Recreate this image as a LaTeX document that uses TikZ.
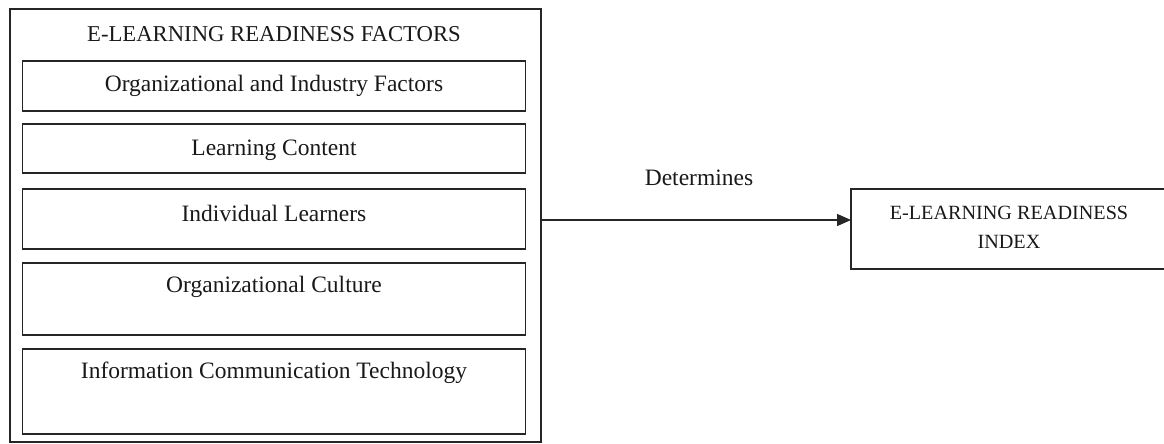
\documentclass[tikz,border=0pt]{standalone}
\usepackage{fontspec}
\setmainfont{Liberation Serif}
\usetikzlibrary{arrows.meta}
\begin{document}
\begin{tikzpicture}[x=1pt,y=-1pt,
  box/.style={draw=black!85,line width=1.4pt,inner sep=0pt,outer sep=0pt},
  lab/.style={font=\fontsize{23.5}{28}\selectfont,inner sep=0pt,anchor=center,text=black!90},
  caps/.style={font=\fontsize{22.7}{28}\selectfont,inner sep=0pt,anchor=center,text=black!90},
  idxtext/.style={font=\fontsize{20.2}{29}\selectfont,inner sep=0pt,anchor=center,align=center,text=black!90},
  arr/.style={draw=black!85,line width=1.4pt,-{Triangle[length=14pt,width=12pt]}},
]
\useasboundingbox (0,0) rectangle (1164,444);
\clip (0,0) rectangle (1164,444);
% outer container
\node[box,minimum width=531pt,minimum height=433pt] (outer) at (275.5,225.5) {};
\node[caps] (title) at (274,34.5) {E-LEARNING READINESS FACTORS};
% factor boxes
\node[box,minimum width=503pt,minimum height=50pt] (b1) at (274.2,86) {};
\node[box,minimum width=503pt,minimum height=49pt] (b2) at (274.2,148.5) {};
\node[box,minimum width=503pt,minimum height=60pt] (b3) at (274.2,219) {};
\node[box,minimum width=503pt,minimum height=72pt] (b4) at (274.2,299) {};
\node[box,minimum width=503pt,minimum height=85pt] (b5) at (274.2,391.5) {};
\node[lab] (t1) at (274,86) {Organizational and Industry Factors};
\node[lab] (t2) at (274,150) {Learning Content};
\node[lab] (t3) at (274,213) {Individual Learners};
\node[lab] (t4) at (274,287) {Organizational Culture};
\node[lab] (t5) at (274,373) {Information Communication Technology};
% index box
\node[box,minimum width=316pt,minimum height=80pt] (idx) at (1009,229) {};
\node[idxtext] (it) at (1009,227.5) {E-LEARNING READINESS\\INDEX};
% connector
\draw[arr] ([yshift=5.5pt]outer.east) -- ([yshift=9pt]idx.west);
\node[lab] (det) at (699,178) {Determines};
\end{tikzpicture}
\end{document}
